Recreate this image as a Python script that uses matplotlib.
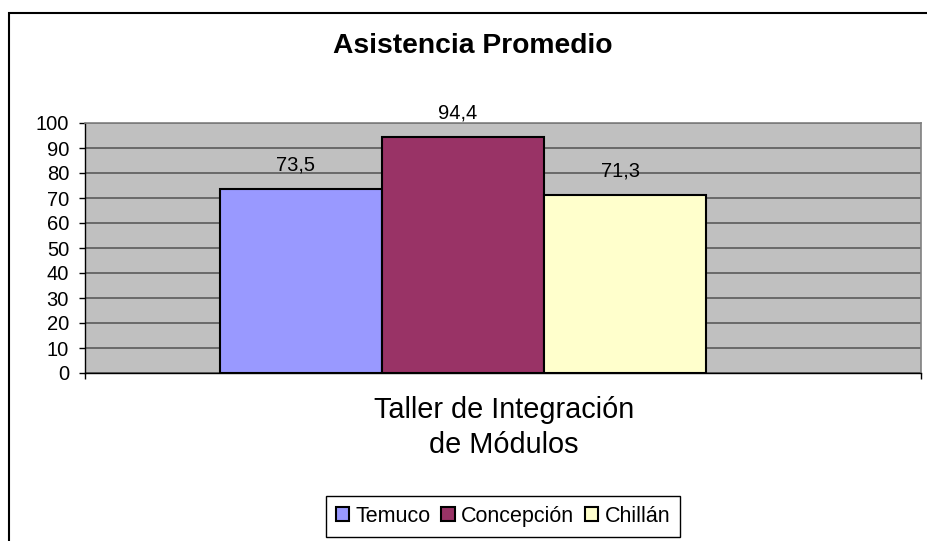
import matplotlib
matplotlib.use("Agg")
import matplotlib.pyplot as plt
from matplotlib.patches import Rectangle

# data
series = ["Temuco", "Concepción", "Chillán"]
values = [73.5, 94.4, 71.3]
labels = ["73,5", "94,4", "71,3"]
colors = ["#9999FF", "#993366", "#FFFFCC"]
category = "Taller de Integración\nde Módulos"
yticks = list(range(0, 101, 10))

plt.rcParams["font.family"] = ["Liberation Sans", "DejaVu Sans"]

fig = plt.figure(figsize=(9.27, 5.41), dpi=100)
ax = fig.add_axes([85 / 927, 1 - 373 / 541, 836 / 927, 250 / 541])
ax.set_facecolor("#C0C0C0")

# bars of one category group, slightly left of centre as in the original
w = 0.194
center = -0.048
for i, (name, v, c) in enumerate(zip(series, values, colors)):
    x = center + (i - 1) * w
    ax.bar(x, v, width=w, color=c, edgecolor="black", linewidth=1.5,
           label=name, zorder=3)
    ax.annotate(labels[i], (x, v), xytext=(-5, 24), textcoords="offset pixels",
                ha="center", va="center", fontsize=14.5, zorder=4)

ax.set_xlim(-0.5, 0.5)
ax.set_ylim(0, 100)
ax.set_yticks(yticks)
ax.set_xticks([-0.5, 0.5])
ax.set_xticklabels([])
ax.yaxis.grid(True, color="#5a5a5a", linewidth=1.2, zorder=0)
ax.set_axisbelow(True)
ax.tick_params(axis="y", direction="out", length=4.5, width=1, pad=7,
               labelsize=14.5)
ax.tick_params(axis="x", direction="out", length=4.5, width=1)
for side in ["top", "right"]:
    ax.spines[side].set_color("#808080")
    ax.spines[side].set_linewidth(1.2)
for side in ["left", "bottom"]:
    ax.spines[side].set_color("black")
    ax.spines[side].set_linewidth(1)

fig.text(473 / 927, 1 - 46 / 541, "Asistencia Promedio", ha="center",
         va="center", fontsize=20.3, fontweight="bold")
fig.text(504 / 927, 1 - 427.5 / 541, category, ha="center", va="center",
         fontsize=20.8, linespacing=1.3)

leg = fig.legend(loc="center", bbox_to_anchor=(503 / 927, 1 - 516.5 / 541),
                 ncol=3, fontsize=15.5, fancybox=False, framealpha=1,
                 edgecolor="black", handlelength=0.62, handleheight=0.62,
                 handletextpad=0.3, columnspacing=0.5, borderpad=0.45,
                 borderaxespad=0)
leg.get_frame().set_linewidth(1)

# outer chart frame (cut off at right and bottom)
fig.patches.append(Rectangle((8.5 / 927, -0.1), 1.2, 1.1 - 13 / 541,
                             transform=fig.transFigure, fill=False,
                             edgecolor="black", linewidth=1.5))

fig.savefig("out.png", dpi=100)
